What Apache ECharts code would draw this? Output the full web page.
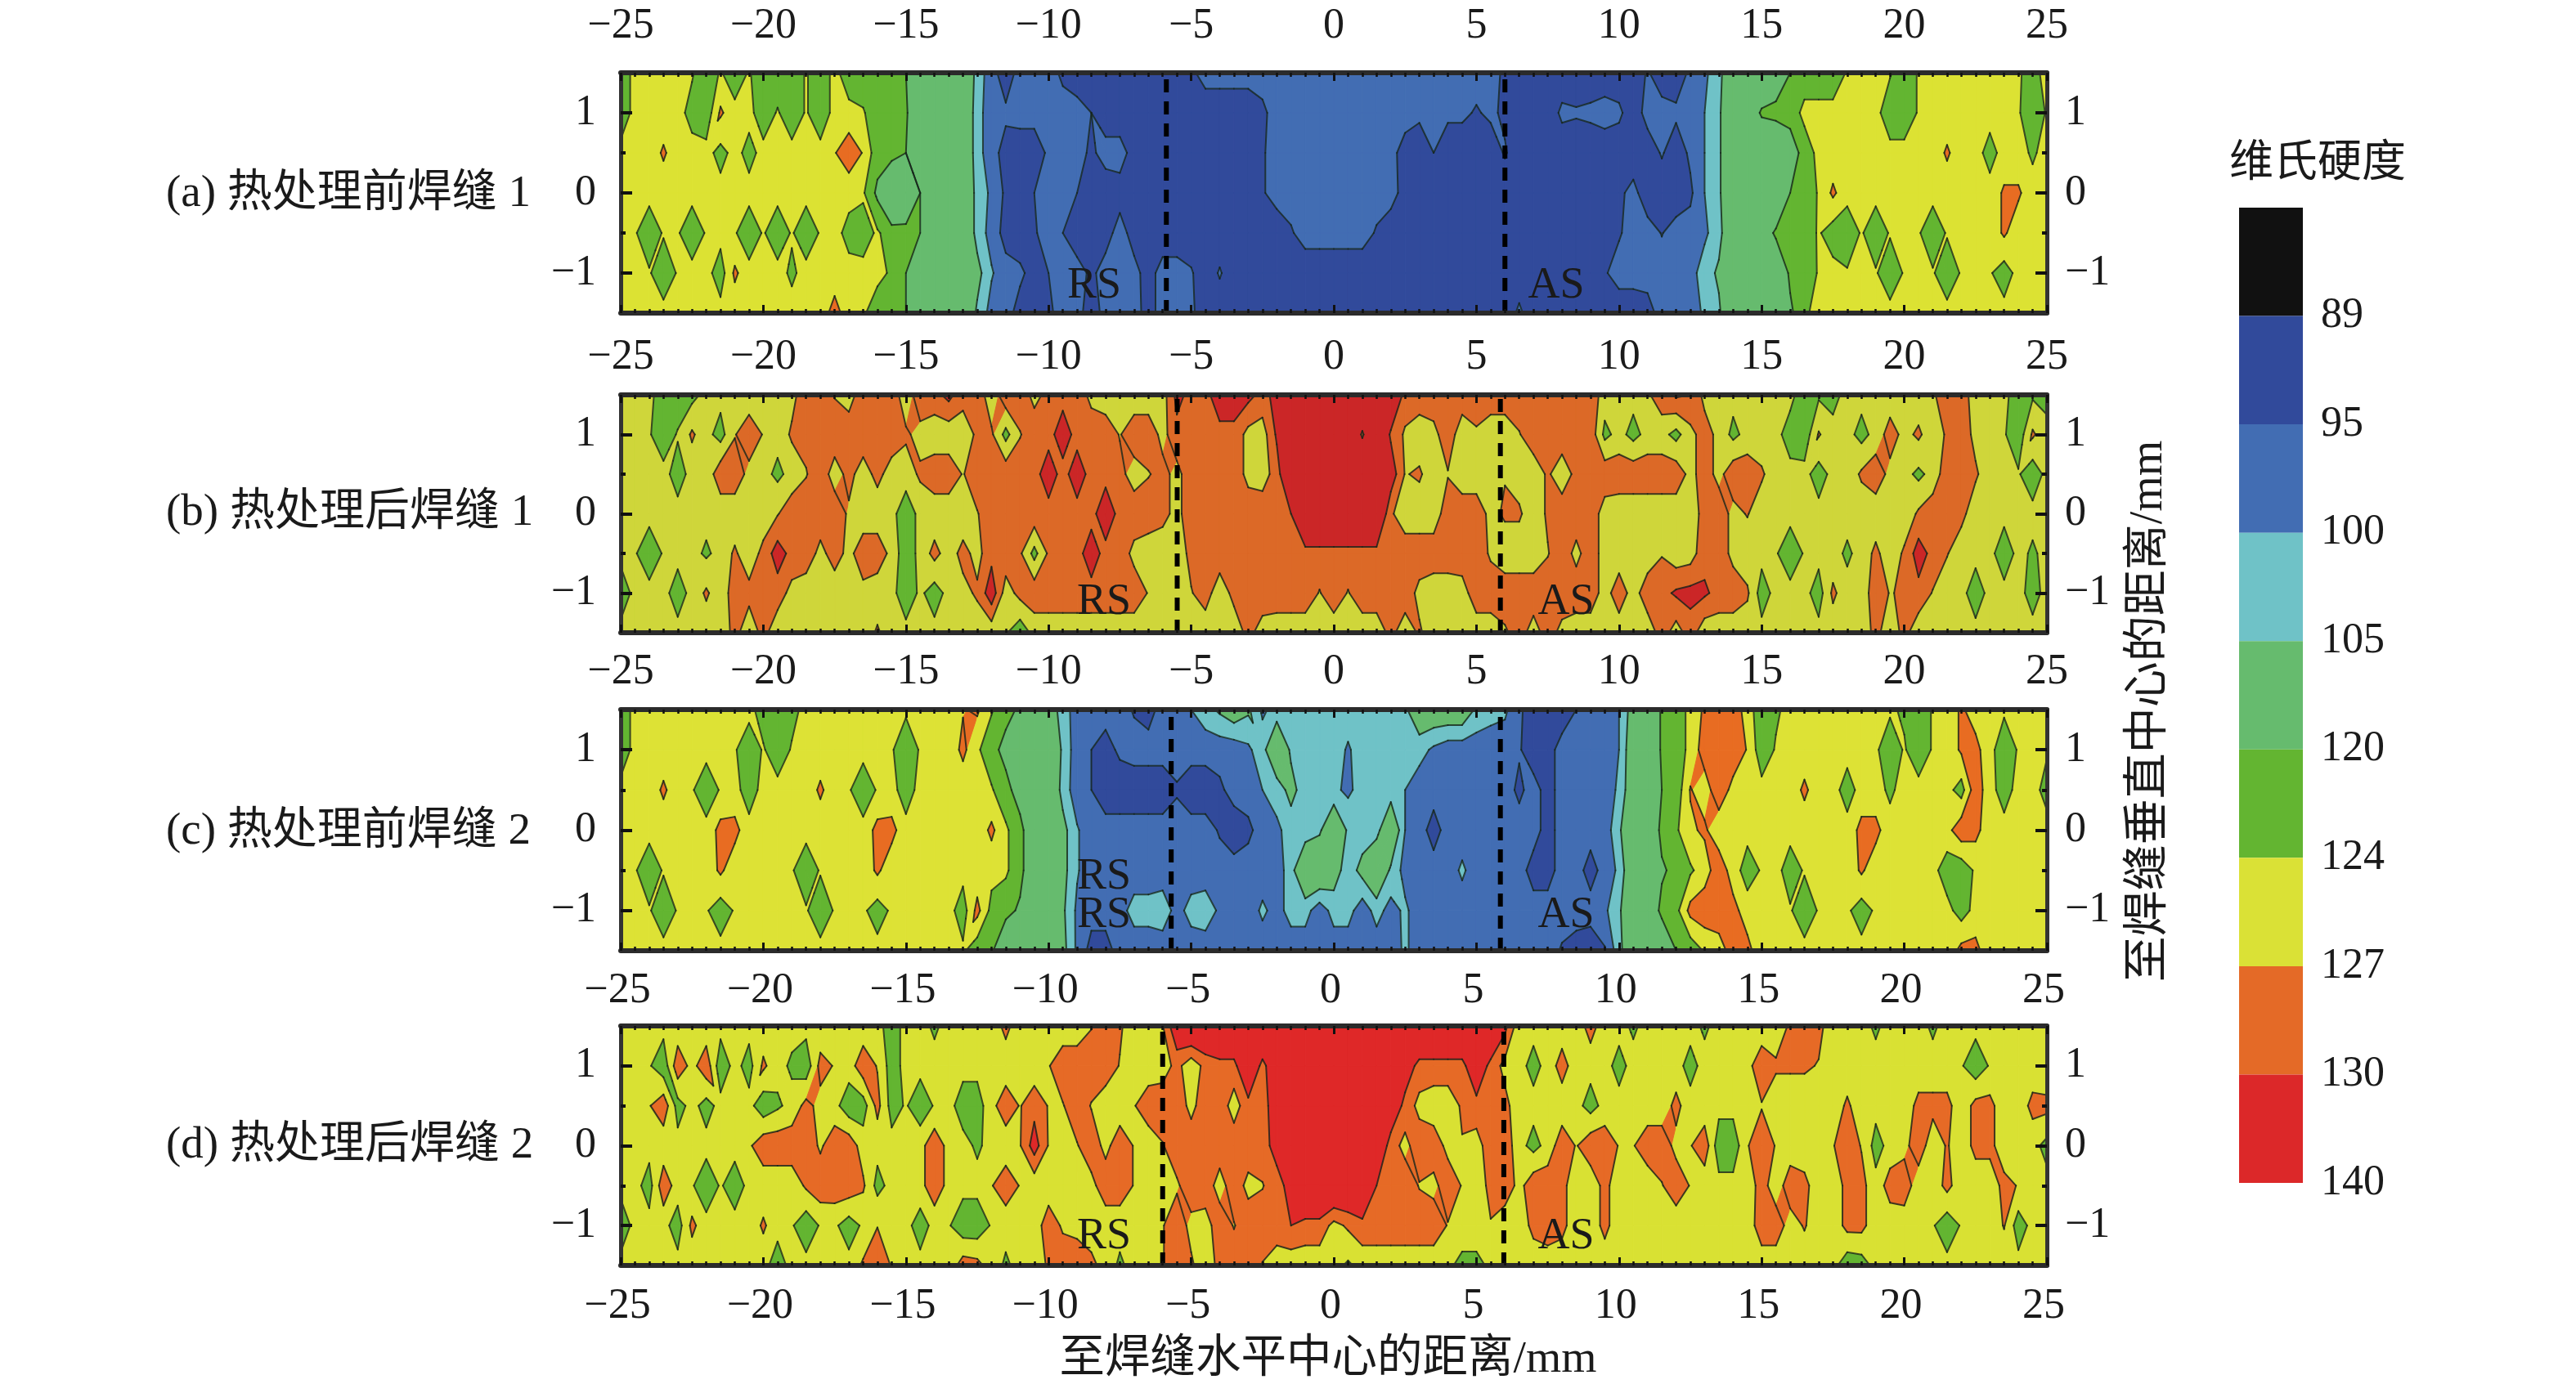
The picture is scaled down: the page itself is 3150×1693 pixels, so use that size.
<!DOCTYPE html>
<html><head><meta charset="utf-8">
<script src="https://cdn.jsdelivr.net/npm/echarts@6/dist/echarts.min.js"></script>
<style>html,body{margin:0;padding:0;background:#fff}#c{width:3150px;height:1693px}</style>
</head><body><div id="c"></div>
<script>
// rows run from y = 1.5 (top) to y = -1.5, columns from x = -25 to 25 in 0.5 mm steps
const yNodes = [1.5,1,0.5,0,-0.5,-1,-1.5];
const hardnessA = [
[122,125,125,125,125,124.3,122,124.3,122,124.3, 122,122,122,124.3,122,125,122,122,122,122, 120,112,112,112,112,103,97,92,97,97, 97,94,92,92,92,92,92,92,92,92, 94,97,97,97,97,97,97,97,97,97, 97,97,97,97,97,97,97,97,97,97, 97,97,94,92,92,92,92,92,92,92, 92,92,95.5,92,92,96,99,103,112,112, 112,115,120,122,122,122,124.3,125,125,124.3, 122,124.3,125,125,125,125,125,125,124.3,123, 125],
[122,125,125,125,125,123,122,127.5,125,125, 122,124.3,122,124.3,122,125,125,124.3,122,122, 121,112,112,112,112,102,97,96,97,97, 97,97,97,95,92,92,92,92,92,92, 92,92,92,92,92,94,97,97,97,97, 97,97,97,97,97,97,96,97,96,96, 94.5,96,94,92,92,92,96,95.5,96,97, 96,92,97,97,96,97,100,104,112,114, 121,122,122,125,125,125,125,125,125,122, 122,124.3,125,125,125,125,125,125,124.3,122, 124.3],
[125,125,125,127.5,125,125,125,123,125,123, 125,125,125,125,125,126.8,129,126.8,122,122, 120,112,112,112,112,102,97,93,92,92, 96,97,97,94,97,97,93,92,92,92, 92,92,92,92,92,94.5,97,97,97,97, 97,97,97,97,96.5,93,92,95,92,92, 92,92,95.5,92,92,92,92,92,92,92, 92,92,92,95.5,92,96,100,104,112,112, 112,112,117,122,125,125,125,125,125,125, 125,125,125,127.5,125,125,123,125,125,123.6, 125],
[125,125,125,125,125,125,125,125,125,125, 125,125,125,125,125,125,125,124.5,119,112, 113,120,113,112,112,103,99,94,92,95, 97,97,95,92,92,93,92,92,92,92, 92,92,92,92,92,94.5,97,97,97,97, 97,97,97,97,97,93,92,92,92,92, 92,92,92,92,92,92,92,92,92,92, 94,96.5,92,92,92,94,100,104,112,112, 112,112,120,122,124.3,127.6,125,125,125,125, 125,125,125,125,125,125,125,127.5,127.5,125, 125],
[125,124.3,122,124.3,124.3,122,124.3,125,124.3,122, 124.3,122,124.3,122,124.3,125,123,122.5,124.5,122, 122,120,112,112,112,103,98,93,92,94.5, 97,95,92,92,93,97,93,92,92,92, 92,92,92,92,92,92,92,94.5,97,97, 97,97,97,94.5,92,92,92,92,92,92, 92,92,92,92,92,92,92,92,92,92, 94.5,97,97,94.8,97,97,99,103,112,112, 116,121,122,122.5,124.3,122.5,122,124.3,122,124.3, 125,124.3,122,124.3,125,125,125,127.5,125,125, 125],
[125,125,124.3,122,124.3,125,125,122.5,127.6,125, 125,125,123.5,125,125,125,125,125,125,123.5, 120,112,112,112,112,107,100.5,97,96,93, 95,97,97,94,97,97,96.5,93,97,97, 95.5,92,95.5,92,92,92,92,92,92,92, 92,92,92,92,92,92,92,92,92,92, 92,92,92,92,92,92,92,92,92,94.5, 97,97,97,97,97,98,102.5,106,112,112, 112,114,121,122,124.3,125,124.3,125,124.3,122, 124.3,125,124.3,122,124.3,125,124.3,122.5,125,125, 125],
[125,125,125,125,125,125,125,125,125,125, 125,125,125,125,125,128.5,125,124.5,122,122, 120,112,112,112,112,104,98,97,93,92, 94,97,97,92,97,97,97,93,97,97, 96,92,92,92,92,92,92,92,92,92, 92,92,92,92,92,92,92,92,92,92, 92,92,92,96,92,92,92,92,92,92, 92,92,93,97,97,97,101,104,112,112, 112,112,119,123.5,125,125,125,125,125,125, 125,125,125,125,125,125,125,125,125,125, 125]
];
const hardnessB = [
[125,125,125,122,122,123,125,125,125,125, 125,125,126,129,129,126.8,125.5,129,129,129, 125,129,129,131,128,129,125,129,129,126, 128,129,129,126,125,125,125,125,125.5,131, 129,129,132,132,131,129,131,135,135,135, 135,135,135,135,134,129,129,129,129,129, 129,129,129,129,129,129,129,129,129,125.5, 125,125,126.5,129,130.5,130,126,125,125,125, 125,125,125,122,123.5,123,125,125,125,125, 125,125,126.5,129,128.5,125.5,125,125,122,123.5, 123],
[125,125,124.3,122,124.3,127.5,125,122.8,126.8,129, 126.8,125,127.5,128,129,129,129,129,129,129, 127.5,126,125,125,125.5,127.5,127.5,123,126.8,129, 129,131.5,129,129,129,126.8,129,129,126,129, 129,129,129,129,126,125.5,130.5,135,135,135, 135,135,129.5,135,129.5,126.5,125,126,129,125, 126.5,125,125,126.8,129,129,129,129,129,123.2, 125,123,125,125,123,126,128.5,126,123.2,125, 125,125,122.5,122,127.3,125,125,123,125,128.5, 126,127.6,125,127.5,129,126,125,124.3,122,127.5, 125],
[125,125,125,125,122.7,125,125,129,129,126, 125,123.3,125,126.8,129,125.5,128,125.5,128,125.5, 125.5,127.5,129,129,126.8,129,129,129,129,129, 131.5,129,131.5,129,129,128,125.5,126.8,128,126, 129,129,129,129,126,125.5,128.5,135,135,135, 135,135,135,135,132,126.8,127.5,125,126.8,125, 125,125,126.8,125.5,125,127.5,125,128,129,129, 129,129,129,129,129,126,128.5,126,129,129, 127.5,125,125,125,122.5,125,125,127.5,129,126, 125,123.3,125,129,129,127.5,125,125,124.3,122, 125],
[125,125,125,125,125,125,125,125,125,125, 125,126.8,129,129,129,129,126.5,125,125,125, 122,125,125,125,125,126.8,129,129,129,129, 129,129,129,129,132,129,129,129,128,126, 129,129,129,129,129,129,129,130,135,135, 135,135,135,135,127.5,125,125,125,129,129, 129,126,127.5,127.5,125,127.5,129,129,129,125.5, 125,125,125,125,125,125.5,128,129,126,127.2, 125,125,125,125,125,125,125,125,125,125, 125,127.5,129,129,128,125,125,125,125,125, 125],
[125,124.3,122,124.3,125,125,123.5,125,127.5,125, 128,131.5,129,129,126,128.5,126,129,129,126, 122,125,128,125.5,128,126,129,129,127.5,123, 127.5,129,129,131.5,129,129,126,125,125,125, 128,129,129,129,129,129,129,129,129,129, 129,129,129,129,129,129,129,129,129,129, 129,126.5,125,125,125,126.8,129,126,129,125.5, 125,125,125,126.8,125,125.5,129,129,126,125, 125,124.3,122,124.3,125,125,123.5,125,127.8,125, 127.5,131.5,129,127.2,125,125,125,122,125,123.5, 125],
[122,125,125,125,122.5,125,127.5,125,128.7,128, 127.5,128.5,126,125,126,125,125,126,125,125, 122,124.6,122.5,125,126,127.5,132,125.5,128,129, 129,129,129,129,129,129,129,126.8,125,125, 126.8,128.5,125,128,129,129,129,129,129,126.8, 129,126.8,129,129,129,129,126,125,125,125.5, 129,129,129,129,129,129,129,129,129,125.5, 129,125.5,129,129,130.5,131,130.5,129,129,127.5, 122.5,125,125,125,122.5,127.7,125,125,129,126.8, 127.5,129,126.8,125,125,122.3,125,125,125,122.8, 125],
[125,125,125,125,125,125,125,125,128,125, 128,125,125,125,125,125,125,125,127.5,125, 125,125,125,125,125,125,125,124.3,122,125, 125,125,125,125,125,125,125,125,125,125, 125,125,125,125,128,125.5,125,125,125,125, 125,125,125,125,128,125,127.5,125,125,125, 125,125,126.5,128.5,125.5,128.5,126,125,125,125, 125,125,125,128.5,125.5,128.5,125,125,125,125, 125,125,125,125,125,125,125,125,128,125, 128,125,125,125,125,125,125,125,125,125, 125]
];
const hardnessC = [
[122,125,125,125,125,125,125,125,125,125, 122.5,122,123,125,125,125,125,125,125,125, 124.5,125,125,125,126.8,127.5,124.3,122,119,112, 108,103,97,97,97,97,94.5,93,97,97, 100,103,106,109,106,99,102,102,102,102, 102,102,102,102,102,104,110,110,110,110, 104,102,101,96,92,92,92,95,97,97, 100,108,112,121,122,125,127.5,129,129,125.5, 122,123.5,125,125,125,125,125,125,125,124.5, 123.5,122,124.3,125,127.5,125.5,125,124.5,125,125, 125],
[122,125,125,125,125,125,125,125,124.3,122, 124.3,122,124.3,125,125,125,125,125,125,124.3, 122,124.3,125,125,127.8,124.5,122,118,112,112, 112,104,97,95,93,96,97,97,97,97, 97,97,97,97,99,103,112,104,102,102, 102,99.5,102,102,102,102,102,99,97,97, 97,97,97,95.5,92,93,97,97,97,97, 100,110,112,121,122,125,128.5,129,129,126.8, 122,124.3,125,125,125,125,125,125,124.5,122, 124.3,122,124.3,125,127.5,128,125,122,124.3,125, 124.3],
[125,125,125,127.6,125,124.3,122,124.3,125,122.5, 125,125,125,125,127.6,125,124.3,122,124.3,125, 122.5,125,125,125,125,125,124.3,122,117,112, 112,103,97,95,92,92,92,92,92,94.5, 92,92,94,97,97,100,102,107,102,102, 101,99,102,102,102,100,97,97,97,97, 97,97,97,94,97,93,97,97,97,97, 101,110,112,120,122,127.2,125.5,129,126,125, 125,125,125,127.7,125,125,122.8,125,125,123.5, 125,125,125,125,122.7,129,125,122.7,125,125, 123],
[125,125,125,125,125,125,125,128,128,125, 125,125,125,125,125,125,125,125,128,128, 125,125,125,125,125,125,127.7,124.5,122,114, 112,107,100.5,97,97,97,97,97,97,97, 97,97,94.5,92,94,97,99,102,102,104, 112,104,102,103,112,100,97,93,97,97, 97,97,97,97,97,93,97,97,97,97, 104,112,112,122,123.5,126.5,127.5,125,125,125, 125,125,125,125,125,125,125,128,128,125, 125,125,125,126,129,128,125,125,125,125, 125],
[125,124.3,122,124.3,125,125,125,127.6,125,125, 125,125,124.3,122,124.3,125,125,125,127.6,125, 125,125,125,125,125,125,125,124.5,122,114, 112,107,100.5,97,97,97,97,97,97,97, 97,97,97,97,97,97,97,103,112,112, 108,102,107,112,104,98,97,97,97,101, 97,97,97,97,93,93,97,97,93,97, 101,112,112,119,122,123.5,125.5,129,125.5,122.5, 124.3,125,122.5,124.3,125,125,125,127.5,125,125, 125,125,125,122.3,122,124.5,125,125,125,125, 125],
[125,125,124.3,122,124.3,125,124.3,122.3,124.3,125, 125,125,125,124.3,122,124.3,125,124.5,122.6,124.5, 125,125,124.8,125,122.5,128,123,122,119,112, 112,106,99,97,97,98,102,102,103,98, 102,103,99,97,97,101,98,102,102,97, 102,102,97,102,98,101,97,97,97,97, 97,97,97,97,97,97,97,97,97,99, 104,112,113,122,123,128,129,129,128,125.5, 125,125,124.3,122,124.3,125,124.5,122.5,124.5,125, 125,125,125,125,122.6,125,125,125,125,125, 125],
[125,125,125,125,125,125,125,125,125,125, 125,125,125,125,125,125,125,125,125,125, 125,125,125,125,124.5,122,121,113,112,112, 112,107,99,93,93,97,97,97,97,97, 97,97,97,97,97,97,97,97,97,97, 97,97,97,97,97,101,97,97,97,97, 97,97,97,97,97,97,94.5,93,92,94.5, 103,112,112,112,120,122,124.3,125.5,128.5,128, 125,125,125,125,125,125,125,125,125,125, 125,125,125,125,128,128,125,125,125,125, 125]
];
const hardnessD = [
[125,125,125,125,125,125,125,125,125,125, 125,125,125,125,125,125,125,125,125,122.5, 125,125,123.5,125,125,125,125,128,125,125, 125,125,125,126.8,128.5,127.5,125,125,126.8,133, 135,135,135,135,135,135,135,135,135,135, 135,135,135,135,135,135,135,135,135,135, 135,135,131,125,125,125,125,125,128.5,125, 125,123.5,125,125,125,125,123.5,125,125,125, 125,125,127.5,129,128,125,125,125,123.5,125, 125,125,123.5,125,125,125,125,125,125,125, 125],
[125,125,124.3,122,129,126,129,122,125,122.8, 127.6,125,123.5,122,128,126.8,125.5,129,126.8,122.5, 125,125,125,125,125,125,125,125,125,125, 126.8,129,129,129,129,126.8,125,125,125.5,128, 125,128,129,129,134,129,133,135,135,135, 135,135,135,135,135,132,129,129,129,129, 133,129,126,125,123,125,128.5,125,125,125, 123,125,125,125,125,123,125,125,125,126, 129,127.5,127.5,127.5,126.8,125,125,125,125,125, 125,125,125,125,124.3,122,124.3,125,125,125, 124.3],
[125,125,126.8,129,122.8,125,122.8,125,125,125, 122,123.5,125,128,126,125,122,122.5,128,122.8, 124.3,122,124.3,125,122.5,122.5,126,129,126.8,129, 126.8,126.8,129,126.8,125,125,126.8,129,129,129, 126,129,129,125.5,129,129,131.5,135,135,135, 135,135,135,135,133,129,126,125,125,127.5, 129,129,128,125,125,125,125,125,122.8,125, 125,125,125,125,128,125,125,125,125,125, 126.8,125,125,125,125,125,127.6,125,125,125, 125,128,128,128,125,128,128,125,125,128, 128],
[125,125,125,125,125,125,125,125,125,126.5, 129,129,129,129,126.5,129,129,125.5,125,125, 125,126,129,126,125,123.5,125,125,126.8,131.5, 126.8,125,126.8,129,126,129,126.8,125,126.8,129, 129,129,129,129,129,129,131,135,135,135, 135,135,135,134,128.5,126,129,129,126,126.8, 125.5,129,129,125,123,125,129,126.8,129,129, 126.8,126.8,129,129,126,126.8,129,122,122,126.8, 129,126.8,125,125,125,126.8,129,126.8,122.8,125, 126,129,125,127.3,125,128,128,125,125,125, 123],
[125,125,122.7,129,125.5,124.3,122,124.3,122.5,124.8, 125,125,125,127.5,129,129,129,127.5,123,125, 125,126,129,126,125,125,126.8,129,126.8,125, 125,125,125,126,129,129,126.8,125,125,126.5, 129,129,125.5,129,126,126.8,129,131,135,135, 135,135,135,130,129,129,126.8,126,129,126.8, 125,128,129,126,129,129,128,125,125,128, 125,125,125,126.8,129,126.8,125,125,125,125, 128.5,125,129,128,125,125,128,128,125,128.5, 129,125,125,128,125,125,125,128,126.8,125, 125],
[122,125,125,125,122.5,127.8,125,125,125,125, 127.5,125,124.3,122,124.3,124.5,122.5,124.5,126.9,125, 125,122.5,125,124.3,122,122,124.3,125,125,125, 129,126.5,126,125,125,125,125,125,126.8,129, 126,125.5,129,126.8,129,129,129,130,129,129, 126,127.5,129,129,129,129,129,129,126.8,126.8, 126.8,126.8,125,125,128,129,128,125,125,128, 125,125,125,125,125,125,125,125,125,125, 129,129,125.5,127.3,125,125,128,128,125,125, 125,125,124.3,122,124.3,125,125,127.2,122.4,125, 125],
[125,125,125,125,125,125,125,125,125,125, 125,122.5,125,125,125,125,125,127.5,129,126.8, 124.3,125,125,125,128.5,128,125.5,123.5,125,125, 127.5,129,129,128,125.5,123.5,125,125,126.8,129, 127.5,125,128,129,129,126.8,125,125,125,125, 125,123.5,125,125,125,125,125,125,125,122.5, 122.5,125,125,125,125,125,125,125,125,125, 125,125,125,125,125,125,125,125,125,125, 125,125,125,125,125,125,122,122.5,125,125, 125,125,125,125,125,125,125,125,125,125, 125]
];
const levels = [0,89,95,100,105,120,124,127,130,140];
const scaleLabels = ['89','95','100','105','120','124','127','130','140'];
const scaleColors = ['#111111','#314A9B','#426DB3','#6FC2C7','#66BB6E','#63B531','#DAE136','#E46A27','#DC2829'];
const panelYellow = ['#DCE233','#CFD63A','#DDE235','#D9E133'];
const panelOrange = ['#E86C22','#DC6927','#E86C22','#E66A26'];
const panelRed = ['#DC2829','#CB2627','#DC2829','#DF2828'];
const weldLeft = [-5.87,-5.49,-5.7,-6];
const weldRight = [6,5.84,5.84,5.96];
const xTickLabelMargin = [31,20,20,17];
const panelNames = ['(a) 热处理前焊缝 1','(b) 热处理后焊缝 1','(c) 热处理前焊缝 2','(d) 热处理后焊缝 2'];
const panelTop = [89,483,868,1255];
const panelBottom = [383,774,1163,1548];
const panelLabelY = [238,628,1018,1402];
const sideMarks = [
  ['RS',1338,350],['AS',1903,350],['RS',1350,737],['AS',1915,737],
  ['RS',1350,1073],['RS',1350,1120],['AS',1915,1120],['RS',1350,1513],['AS',1915,1513]
];
const panels = [hardnessA,hardnessB,hardnessC,hardnessD];
const FONT = '"Liberation Serif","Noto Sans CJK SC",serif';
const TXT = '#1a1a1a';
const minusFmt = v => String(v).replace('-','\u2212');
const nodeX = i => -25 + i*0.5;

function cornersOf(grid,i,j){
  const p=(a,b)=>({x:nodeX(a),y:yNodes[b],v:(grid[b][a]!==undefined?grid[b][a]:grid[b][grid[b].length-1])});
  return [p(i,j),p(i+1,j),p(i+1,j+1),p(i,j+1)];
}
// a cell whose diagonals disagree on a red or green contour is cut at its centre
function cellPolys(cs){
  let saddle=false;
  for(let l=1;l<levels.length-1;l++){
    const L=levels[l];if(L===127)continue;
    const a=cs[0].v>=L,b=cs[1].v>=L,c=cs[2].v>=L,d=cs[3].v>=L;
    if(a===c&&b===d&&a!==b)saddle=true;
  }
  if(!saddle)return [cs];
  const m1=(cs[0].v+cs[2].v)/2,m2=(cs[1].v+cs[3].v)/2;
  const mid={x:(cs[0].x+cs[1].x)/2,y:(cs[0].y+cs[3].y)/2,v:Math.abs(m1-125)<Math.abs(m2-125)?m1:m2};
  return [0,1,2,3].map(k=>[cs[k],cs[(k+1)%4],mid]);
}
function area(p){let s=0;for(let k=0;k<p.length;k++){const a=p[k],b=p[(k+1)%p.length];s+=a.x*b.y-b.x*a.y;}return Math.abs(s)/2;}
function clip(poly,level,keepAbove){
  const out=[];const ins=q=>keepAbove?q.v>=level:q.v<=level;
  for(let k=0;k<poly.length;k++){
    const a=poly[k],b=poly[(k+1)%poly.length];
    const ia=ins(a),ib=ins(b);
    if(ia)out.push(a);
    if(ia!==ib){const t=(level-a.v)/(b.v-a.v);out.push({x:a.x+t*(b.x-a.x),y:a.y+t*(b.y-a.y),v:level});}
  }
  return out;
}
function fillItem(grid,pi){
  const colors=scaleColors.slice();colors[6]=panelYellow[pi];colors[7]=panelOrange[pi];colors[8]=panelRed[pi];
  return function(params,api){
    const i=api.value(0),j=api.value(1);
    const kids=[];
    cellPolys(cornersOf(grid,i,j)).forEach(cs=>{
      for(let b=0;b<colors.length;b++){
        let poly=clip(cs,levels[b],true);
        if(poly.length>=3)poly=clip(poly,levels[b+1],false);
        if(poly.length>=3&&area(poly)>1e-4){
          kids.push({type:'polygon',shape:{points:poly.map(q=>api.coord([q.x,q.y]))},
            style:{fill:colors[b],stroke:colors[b],lineWidth:1}});
        }
      }
    });
    return {type:'group',children:kids};
  };
}
function lineItem(grid){
  return function(params,api){
    const i=api.value(0),j=api.value(1);
    const kids=[];
    cellPolys(cornersOf(grid,i,j)).forEach(cs=>{
      const n=cs.length;
      for(let l=1;l<levels.length-1;l++){
        const L=levels[l];const pts=[];
        for(let k=0;k<n;k++){
          const a=cs[k],b=cs[(k+1)%n];
          if((a.v>=L)!==(b.v>=L)){const t=(L-a.v)/(b.v-a.v);pts.push(api.coord([a.x+t*(b.x-a.x),a.y+t*(b.y-a.y)]));}
        }
        for(let k=0;k+1<pts.length;k+=2){
          kids.push({type:'line',shape:{x1:pts[k][0],y1:pts[k][1],x2:pts[k+1][0],y2:pts[k+1][1]},
            style:{stroke:'#16261c',lineWidth:2,opacity:0.8,lineCap:'round'}});
        }
      }
    });
    return {type:'group',children:kids};
  };
}

const grids=[],xAxes=[],yAxes=[],series=[];
panels.forEach((grid,pi)=>{
  grids.push({left:759,width:1744,top:panelTop[pi],height:panelBottom[pi]-panelTop[pi],show:false});
  const xBase=ax=>({gridIndex:pi,type:'value',min:-25,max:25,interval:5,z:6,
    axisLine:{show:true,onZero:false,lineStyle:{color:'#2b2b2b',width:6}},
    axisTick:{show:true,inside:true,length:10,lineStyle:{color:'#111',width:3}},
    minorTick:{show:true,splitNumber:10,length:5,lineStyle:{color:'#111',width:2.5}},
    splitLine:{show:false},minorSplitLine:{show:false},...ax});
  const labelStyle={fontFamily:FONT,fontSize:52,color:TXT,formatter:minusFmt,showMinLabel:true,showMaxLabel:true};
  if(pi===3)labelStyle.padding=[0,8,0,0];
  xAxes.push(xBase({position:'top',axisLabel:{...labelStyle,margin:xTickLabelMargin[pi]}}));
  xAxes.push(xBase({position:'bottom',axisLabel:pi===3?{...labelStyle,margin:24}:{show:false}}));
  const yMain=(pos,margin)=>({gridIndex:pi,type:'value',min:-1.5,max:1.5,position:pos,z:6,
    axisLine:{show:true,onZero:false,lineStyle:{color:'#333',width:5}},
    axisTick:{show:true,inside:true,length:14,customValues:[-1,0,1],lineStyle:{color:'#111',width:4}},
    axisLabel:{customValues:[-1,0,1],fontFamily:FONT,fontSize:52,color:TXT,margin:margin,padding:[4,0,0,0],formatter:minusFmt},
    splitLine:{show:false}});
  const yHalf=pos=>({gridIndex:pi,type:'value',min:-1.5,max:1.5,position:pos,z:6,
    axisLine:{show:false,onZero:false},axisLabel:{show:false},splitLine:{show:false},
    axisTick:{show:true,inside:true,length:6,customValues:[-0.5,0.5],lineStyle:{color:'#111',width:4}}});
  yAxes.push(yMain('left',30),yMain('right',22),yHalf('left'),yHalf('right'));
  const cells=[];
  for(let j=0;j<yNodes.length-1;j++)for(let i=0;i<100;i++)cells.push([i,j]);
  const xi=pi*2,yi=pi*4;
  series.push({type:'custom',xAxisIndex:xi,yAxisIndex:yi,data:cells,silent:true,clip:true,z:2,renderItem:fillItem(grid,pi)});
  series.push({type:'custom',xAxisIndex:xi,yAxisIndex:yi,data:cells,silent:true,clip:true,z:3,renderItem:lineItem(grid)});
  [weldLeft[pi],weldRight[pi]].forEach(wx=>{
    series.push({type:'line',xAxisIndex:xi,yAxisIndex:yi,data:[[wx,-1.5],[wx,1.5]],symbol:'none',silent:true,z:4,
      lineStyle:{color:'#000',width:6,type:[16,11]}});
  });
});
// colour scale
grids.push({left:2738,width:78,top:254,height:1193,show:false});
xAxes.push({gridIndex:4,type:'category',data:[''],show:false});
yAxes.push({gridIndex:4,type:'value',min:0,max:9,interval:1,inverse:true,position:'right',
  axisLine:{show:false},axisTick:{show:false},splitLine:{show:false},
  axisLabel:{fontFamily:FONT,fontSize:52,color:TXT,margin:22,showMinLabel:true,showMaxLabel:true,padding:[0,0,12,0],
    formatter:v=>v===0?'':scaleLabels[v-1]}});
scaleColors.forEach(c=>{
  series.push({type:'bar',xAxisIndex:8,yAxisIndex:16,stack:'scale',barWidth:'100%',data:[1],silent:true,itemStyle:{color:c}});
});

const text=(t,x,y,align,size,rot)=>({type:'text',x:x,y:y,rotation:rot||0,z:20,silent:true,
  style:{text:t,fill:TXT,font:size+'px '+FONT,textAlign:align,textVerticalAlign:'middle'}});
const graphics=[];
panelNames.forEach((n,i)=>graphics.push(text(n,203,panelLabelY[i],'left',55)));
sideMarks.forEach(m=>graphics.push(text(m[0],m[1],m[2],'center',54)));
graphics.push(text('至焊缝水平中心的距离/mm',1624,1663,'center',55.5));
graphics.push(text('至焊缝垂直中心的距离/mm',2628,870,'center',56,Math.PI/2));
graphics.push(text('维氏硬度',2834,202,'center',54));

const chart=echarts.init(document.getElementById('c'),null,{renderer:'canvas'});
chart.setOption({animation:false,backgroundColor:'#fff',grid:grids,xAxis:xAxes,yAxis:yAxes,series:series,graphic:graphics,tooltip:{show:false},legend:{show:false}});
</script></body></html>
